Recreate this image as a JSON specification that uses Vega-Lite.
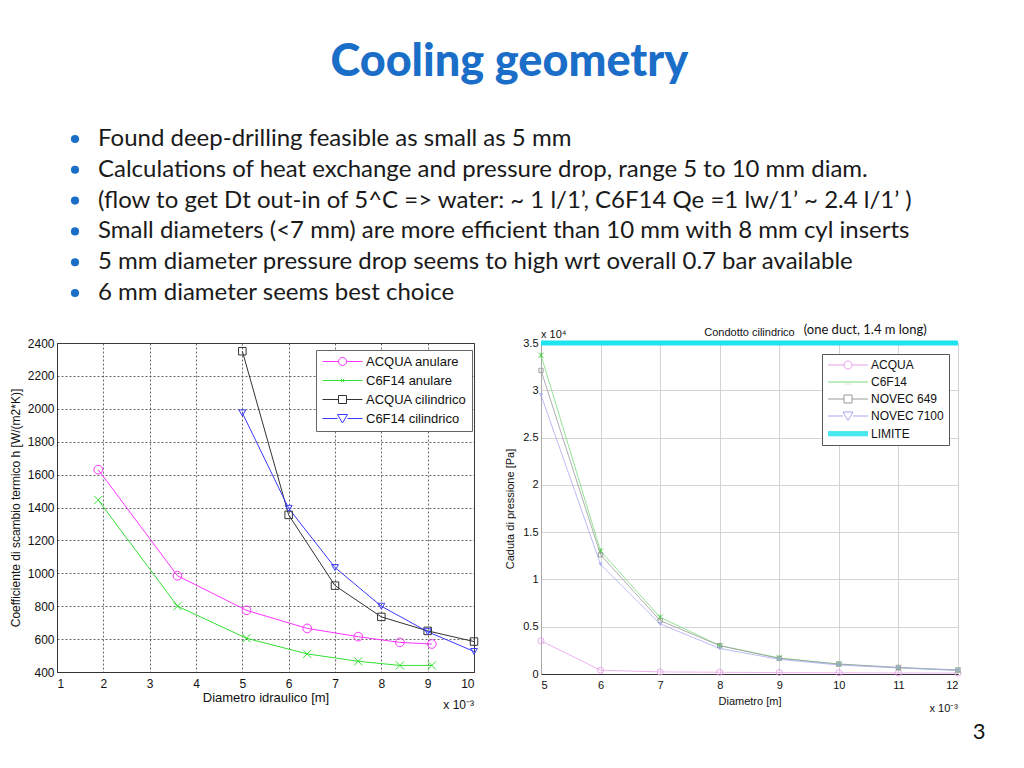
{
  "$schema": "https://vega.github.io/schema/vega-lite/v6.json",
  "background": "white",
  "padding": {"left": 8, "top": 40, "right": 0, "bottom": 0},
  "config": {
    "font": "Liberation Sans",
    "axis": {"labelFont": "Liberation Sans", "titleFont": "Liberation Sans", "titleFontWeight": "normal", "labelColor": "#111", "titleColor": "#111", "labelOverlap": false}
  },
  "title": {"text": "Cooling geometry", "font": "Lato", "fontSize": 45, "fontWeight": 900, "color": "#1a6ec8", "anchor": "middle", "dx": 12, "offset": 42},
  "bounds": "flush",
  "spacing": 50,
  "vconcat": [
    {
      "width": 901,
      "height": 154,
      "view": {"stroke": null},
      "data": {"values": [
        {"n": 1, "t": "Found deep-drilling feasible as small as 5 mm"},
        {"n": 2, "t": "Calculations of heat exchange and pressure drop, range 5 to 10 mm diam."},
        {"n": 3, "t": "(flow to get Dt out-in of 5^C => water:  ~ 1 l/1’, C6F14 Qe =1 lw/1’ ~ 2.4 l/1’ )"},
        {"n": 4, "t": "Small diameters (<7 mm) are more efficient than 10 mm with 8 mm cyl inserts"},
        {"n": 5, "t": "5 mm diameter pressure drop seems to high wrt overall 0.7 bar available"},
        {"n": 6, "t": "6 mm diameter seems best choice"}
      ]},
      "encoding": {"y": {"field": "n", "type": "ordinal", "axis": null, "scale": {"type": "point", "padding": 0}}},
      "layer": [
        {"mark": {"type": "point", "shape": "circle", "filled": true, "size": 66, "color": "#1a6ec8", "opacity": 1}, "encoding": {"x": {"value": 18}}},
        {"mark": {"type": "text", "align": "left", "baseline": "middle", "font": "Lato", "fontSize": 24, "color": "#1a1a1a"}, "encoding": {"x": {"value": 41}, "text": {"field": "t"}}}
      ]
    },
    {
      "hconcat": [
        {
          "width": 417,
          "height": 329,
          "view": {"stroke": "#333"},
          "data": {"values": [
            {"s": "ACQUA anulare", "d": 1.89, "h": 1630},
            {"s": "ACQUA anulare", "d": 3.6, "h": 985},
            {"s": "ACQUA anulare", "d": 5.09, "h": 775},
            {"s": "ACQUA anulare", "d": 6.4, "h": 665},
            {"s": "ACQUA anulare", "d": 7.5, "h": 615},
            {"s": "ACQUA anulare", "d": 8.4, "h": 580},
            {"s": "ACQUA anulare", "d": 9.09, "h": 570},
            {"s": "C6F14 anulare", "d": 1.89, "h": 1445},
            {"s": "C6F14 anulare", "d": 3.6, "h": 800},
            {"s": "C6F14 anulare", "d": 5.09, "h": 605},
            {"s": "C6F14 anulare", "d": 6.4, "h": 510},
            {"s": "C6F14 anulare", "d": 7.5, "h": 465},
            {"s": "C6F14 anulare", "d": 8.4, "h": 440},
            {"s": "C6F14 anulare", "d": 9.09, "h": 440},
            {"s": "ACQUA cilindrico", "d": 5, "h": 2350},
            {"s": "ACQUA cilindrico", "d": 6, "h": 1355},
            {"s": "ACQUA cilindrico", "d": 7, "h": 925},
            {"s": "ACQUA cilindrico", "d": 8, "h": 735},
            {"s": "ACQUA cilindrico", "d": 9, "h": 650},
            {"s": "ACQUA cilindrico", "d": 10, "h": 585},
            {"s": "C6F14 cilindrico", "d": 5, "h": 1975},
            {"s": "C6F14 cilindrico", "d": 6, "h": 1395},
            {"s": "C6F14 cilindrico", "d": 7, "h": 1035},
            {"s": "C6F14 cilindrico", "d": 8, "h": 800},
            {"s": "C6F14 cilindrico", "d": 9, "h": 645},
            {"s": "C6F14 cilindrico", "d": 10, "h": 525}
          ]},
          "resolve": {"scale": {"color": "independent", "shape": "independent"}},
          "layer": [
            {
              "mark": {"type": "line", "strokeWidth": 1},
              "encoding": {
                "x": {"field": "d", "type": "quantitative", "scale": {"domain": [1, 10], "nice": false, "zero": false},
                  "axis": {"values": [1,2,3,4,5,6,7,8,9,10], "tickCount": 12, "format": "d", "title": "Diametro idraulico [m]", "grid": true, "gridDash": [2, 2], "gridColor": "#444", "gridOpacity": 0.8, "ticks": false, "tickSize": 0, "labelFontSize": 12, "titleFontSize": 13, "labelPadding": 6, "titlePadding": 2, "domainColor": "#333"}},
                "y": {"field": "h", "type": "quantitative", "scale": {"domain": [400, 2400], "nice": false, "zero": false},
                  "axis": {"values": [400,600,800,1000,1200,1400,1600,1800,2000,2200,2400], "tickCount": 12, "format": "d", "title": "Coefficiente di scambio termico h [W/(m2*K)]", "grid": true, "gridDash": [2, 2], "gridColor": "#444", "gridOpacity": 0.8, "ticks": false, "tickSize": 0, "labelFontSize": 12, "titleFontSize": 12, "labelPadding": 3, "titlePadding": 5, "domainColor": "#333"}},
                "color": {"field": "s", "type": "nominal", "scale": {"domain": ["ACQUA anulare", "C6F14 anulare", "ACQUA cilindrico", "C6F14 cilindrico"], "range": ["#ff33ff", "#33e033", "#333333", "#3a3aff"]}, "legend": null}
              }
            },
            {
              "mark": {"type": "point", "filled": false, "strokeWidth": 1, "opacity": 1},
              "encoding": {
                "x": {"field": "d", "type": "quantitative"},
                "y": {"field": "h", "type": "quantitative"},
                "color": {"field": "s", "type": "nominal", "scale": {"domain": ["ACQUA anulare", "C6F14 anulare", "ACQUA cilindrico", "C6F14 cilindrico"], "range": ["#ff33ff", "#33e033", "#333333", "#3a3aff"]}, "legend": null},
                "shape": {"field": "s", "type": "nominal", "scale": {"domain": ["ACQUA anulare", "C6F14 anulare", "ACQUA cilindrico", "C6F14 cilindrico"], "range": ["circle", "M-1,-1L1,1M-1,1L1,-1", "square", "triangle-down"]}, "legend": null},
                "size": {"field": "s", "type": "nominal", "scale": {"domain": ["ACQUA anulare", "C6F14 anulare", "ACQUA cilindrico", "C6F14 cilindrico"], "range": [75, 9, 70, 90]}, "legend": null}
              }
            },
            {
              "transform": [{"filter": "false"}],
              "mark": {"type": "point", "filled": false, "strokeWidth": 1, "opacity": 1, "size": 100},
              "encoding": {
                "x": {"field": "d", "type": "quantitative"},
                "y": {"field": "h", "type": "quantitative"},
                "color": {"field": "s", "type": "nominal", "scale": {"domain": ["ACQUA anulare", "C6F14 anulare", "ACQUA cilindrico", "C6F14 cilindrico"], "range": ["#ff33ff", "#33e033", "#333333", "#3a3aff"]},
                  "legend": {"title": null, "orient": "none", "legendX": 259, "legendY": 7, "fillColor": "white", "strokeColor": "#666", "padding": 5, "labelFont": "Liberation Sans", "labelFontSize": 13, "labelColor": "#111", "symbolSize": 100, "symbolStrokeWidth": 1, "symbolOffset": 15, "labelOffset": 17, "rowPadding": 5}},
                "shape": {"field": "s", "type": "nominal", "scale": {"domain": ["ACQUA anulare", "C6F14 anulare", "ACQUA cilindrico", "C6F14 cilindrico"], "range": [
                  "M-4,0H-0.8M0.8,0H4M-0.8,0A0.8,0.8 0 1,0 0.8,0A0.8,0.8 0 1,0 -0.8,0",
                  "M-4,0H4M-0.35,-0.35L0.35,0.35M-0.35,0.35L0.35,-0.35",
                  "M-4,0H-0.8M0.8,0H4M-0.8,-0.8H0.8V0.8H-0.8Z",
                  "M-4,0H-1M1,0H4M-1,-0.8H1L0,0.9Z"]},
                  "legend": {"title": null, "orient": "none", "legendX": 259, "legendY": 7, "fillColor": "white", "strokeColor": "#666", "padding": 5, "labelFont": "Liberation Sans", "labelFontSize": 13, "labelColor": "#111", "symbolSize": 100, "symbolStrokeWidth": 1, "symbolOffset": 15, "labelOffset": 17, "rowPadding": 5}}
              }
            },
            {
              "data": {"values": [{}]},
              "mark": {"type": "text", "text": "x 10⁻³", "align": "right", "baseline": "middle", "dy": 33, "fontSize": 12, "color": "#111", "clip": false},
              "encoding": {"x": {"datum": 10, "type": "quantitative"}, "y": {"datum": 400, "type": "quantitative"}}
            }
          ]
        },
        {
          "width": 417,
          "height": 331,
          "view": {"stroke": "#999"},
          "data": {"values": [
            {"s": "ACQUA", "d": 5, "p": 3500},
            {"s": "ACQUA", "d": 6, "p": 400},
            {"s": "ACQUA", "d": 7, "p": 220},
            {"s": "ACQUA", "d": 8, "p": 180},
            {"s": "ACQUA", "d": 9, "p": 150},
            {"s": "ACQUA", "d": 10, "p": 130},
            {"s": "ACQUA", "d": 11, "p": 110},
            {"s": "ACQUA", "d": 12, "p": 100},
            {"s": "C6F14", "d": 5, "p": 33700},
            {"s": "C6F14", "d": 6, "p": 13000},
            {"s": "C6F14", "d": 7, "p": 6000},
            {"s": "C6F14", "d": 8, "p": 3000},
            {"s": "C6F14", "d": 9, "p": 1700},
            {"s": "C6F14", "d": 10, "p": 1050},
            {"s": "C6F14", "d": 11, "p": 650},
            {"s": "C6F14", "d": 12, "p": 400},
            {"s": "NOVEC 649", "d": 5, "p": 32100},
            {"s": "NOVEC 649", "d": 6, "p": 12600},
            {"s": "NOVEC 649", "d": 7, "p": 5650},
            {"s": "NOVEC 649", "d": 8, "p": 3000},
            {"s": "NOVEC 649", "d": 9, "p": 1650},
            {"s": "NOVEC 649", "d": 10, "p": 1050},
            {"s": "NOVEC 649", "d": 11, "p": 700},
            {"s": "NOVEC 649", "d": 12, "p": 420},
            {"s": "NOVEC 7100", "d": 5, "p": 29500},
            {"s": "NOVEC 7100", "d": 6, "p": 11600},
            {"s": "NOVEC 7100", "d": 7, "p": 5300},
            {"s": "NOVEC 7100", "d": 8, "p": 2700},
            {"s": "NOVEC 7100", "d": 9, "p": 1550},
            {"s": "NOVEC 7100", "d": 10, "p": 950},
            {"s": "NOVEC 7100", "d": 11, "p": 650},
            {"s": "NOVEC 7100", "d": 12, "p": 380},
            {"s": "LIMITE", "d": 5, "p": 35000},
            {"s": "LIMITE", "d": 12, "p": 35000}
          ]},
          "resolve": {"scale": {"color": "independent", "shape": "independent"}},
          "layer": [
            {
              "transform": [{"filter": "datum.s != 'LIMITE'"}],
              "mark": {"type": "line", "strokeWidth": 0.8},
              "encoding": {
                "x": {"field": "d", "type": "quantitative", "scale": {"domain": [5, 12], "nice": false, "zero": false},
                  "axis": {"values": [5,6,7,8,9,10,11,12], "tickCount": 12, "format": "d", "title": "Diametro [m]", "grid": true, "gridColor": "#d4d4d4", "ticks": false, "tickSize": 0, "labelFontSize": 11, "titleFontSize": 11, "labelPadding": 5, "titlePadding": 5, "domainColor": "#333"}},
                "y": {"field": "p", "type": "quantitative", "scale": {"domain": [0, 35000], "nice": false, "zero": false},
                  "axis": {"values": [0,5000,10000,15000,20000,25000,30000,35000], "tickCount": 12, "labelExpr": "format(datum.value/10000, '~g')", "title": "Caduta di pressione [Pa]", "grid": true, "gridColor": "#d4d4d4", "ticks": false, "tickSize": 0, "labelFontSize": 11, "titleFontSize": 11, "labelPadding": 3, "titlePadding": 7, "domainColor": "#aaa"}},
                "color": {"field": "s", "type": "nominal", "scale": {"domain": ["ACQUA", "C6F14", "NOVEC 649", "NOVEC 7100"], "range": ["#e8a0e8", "#7ada7a", "#9a9a9a", "#a8a8f4"]}, "legend": null}
              }
            },
            {
              "transform": [{"filter": "datum.s != 'LIMITE'"}],
              "mark": {"type": "point", "filled": false, "strokeWidth": 0.9, "opacity": 1},
              "encoding": {
                "x": {"field": "d", "type": "quantitative"},
                "y": {"field": "p", "type": "quantitative"},
                "color": {"field": "s", "type": "nominal", "scale": {"domain": ["ACQUA", "C6F14", "NOVEC 649", "NOVEC 7100"], "range": ["#e8a0e8", "#44cc44", "#9a9a9a", "#a8a8f4"]}, "legend": null},
                "shape": {"field": "s", "type": "nominal", "scale": {"domain": ["ACQUA", "C6F14", "NOVEC 649", "NOVEC 7100"], "range": ["circle", "M-1,-1L1,1M-1,1L1,-1M0,-1L0,1", "square", "triangle-down"]}, "legend": null},
                "size": {"field": "s", "type": "nominal", "scale": {"domain": ["ACQUA", "C6F14", "NOVEC 649", "NOVEC 7100"], "range": [70, 10, 80, 90]}, "legend": null}
              }
            },
            {
              "transform": [{"filter": "datum.s == 'LIMITE'"}],
              "mark": {"type": "line", "strokeWidth": 5, "color": "#1fe3ee"},
              "encoding": {
                "x": {"field": "d", "type": "quantitative"},
                "y": {"field": "p", "type": "quantitative"}
              }
            },
            {
              "transform": [{"filter": "false"}],
              "mark": {"type": "point", "filled": false, "strokeWidth": 1, "opacity": 1, "size": 100},
              "encoding": {
                "x": {"field": "d", "type": "quantitative"},
                "y": {"field": "p", "type": "quantitative"},
                "color": {"field": "s", "type": "nominal", "scale": {"domain": ["ACQUA", "C6F14", "NOVEC 649", "NOVEC 7100", "LIMITE"], "range": ["#e8a0e8", "#7ada7a", "#9a9a9a", "#a8a8f4", "#1fe3ee"]},
                  "legend": {"title": null, "orient": "none", "legendX": 281, "legendY": 11, "fillColor": "white", "strokeColor": "#555", "padding": 5, "labelFont": "Liberation Sans", "labelFontSize": 12, "labelColor": "#111", "symbolSize": 100, "symbolStrokeWidth": 1, "symbolOffset": 15, "labelOffset": 17, "rowPadding": 5}},
                "shape": {"field": "s", "type": "nominal", "scale": {"domain": ["ACQUA", "C6F14", "NOVEC 649", "NOVEC 7100", "LIMITE"], "range": [
                  "M-4,0H-0.8M0.8,0H4M-0.8,0A0.8,0.8 0 1,0 0.8,0A0.8,0.8 0 1,0 -0.8,0",
                  "M-4,0H4M-0.3,0.3L-0.3,0.5M0.3,0.3L0.3,0.5",
                  "M-4,0H-0.8M0.8,0H4M-0.8,-0.8H0.8V0.8H-0.8Z",
                  "M-4,0H-1M1,0H4M-1,-0.8H1L0,0.9Z",
                  "M-4,-0.45H4M-4,-0.25H4M-4,-0.05H4M-4,0.15H4M-4,0.35H4"]},
                  "legend": {"title": null, "orient": "none", "legendX": 281, "legendY": 11, "fillColor": "white", "strokeColor": "#555", "padding": 5, "labelFont": "Liberation Sans", "labelFontSize": 12, "labelColor": "#111", "symbolSize": 100, "symbolStrokeWidth": 1, "symbolOffset": 15, "labelOffset": 17, "rowPadding": 5}}
              }
            },
            {
              "data": {"values": [{}]},
              "mark": {"type": "text", "text": "Condotto cilindrico", "align": "center", "baseline": "middle", "dy": -10, "fontSize": 11, "color": "#111", "clip": false},
              "encoding": {"x": {"datum": 8.5, "type": "quantitative"}, "y": {"datum": 35000, "type": "quantitative"}}
            },
            {
              "data": {"values": [{}]},
              "mark": {"type": "text", "text": "x 10⁴", "align": "left", "baseline": "middle", "dy": -8, "fontSize": 11, "color": "#111", "clip": false},
              "encoding": {"x": {"datum": 5, "type": "quantitative"}, "y": {"datum": 35000, "type": "quantitative"}}
            },
            {
              "data": {"values": [{}]},
              "mark": {"type": "text", "text": "(one duct, 1.4 m long)", "align": "left", "baseline": "middle", "dy": -13, "font": "Lato", "fontSize": 13, "color": "#111", "clip": false},
              "encoding": {"x": {"datum": 9.41, "type": "quantitative"}, "y": {"datum": 35000, "type": "quantitative"}}
            },
            {
              "data": {"values": [{}]},
              "mark": {"type": "text", "text": "x 10⁻³", "align": "right", "baseline": "middle", "dy": 35, "fontSize": 11, "color": "#111", "clip": false},
              "encoding": {"x": {"datum": 12, "type": "quantitative"}, "y": {"datum": 0, "type": "quantitative"}}
            },
            {
              "data": {"values": [{}]},
              "mark": {"type": "text", "text": "3", "align": "center", "baseline": "middle", "dx": 21, "dy": 58, "font": "Lato", "fontSize": 22, "color": "#111", "clip": false},
              "encoding": {"x": {"datum": 12, "type": "quantitative"}, "y": {"datum": 0, "type": "quantitative"}}
            }
          ]
        }
      ],
      "spacing": 67,
      "bounds": "flush"
    }
  ]
}
